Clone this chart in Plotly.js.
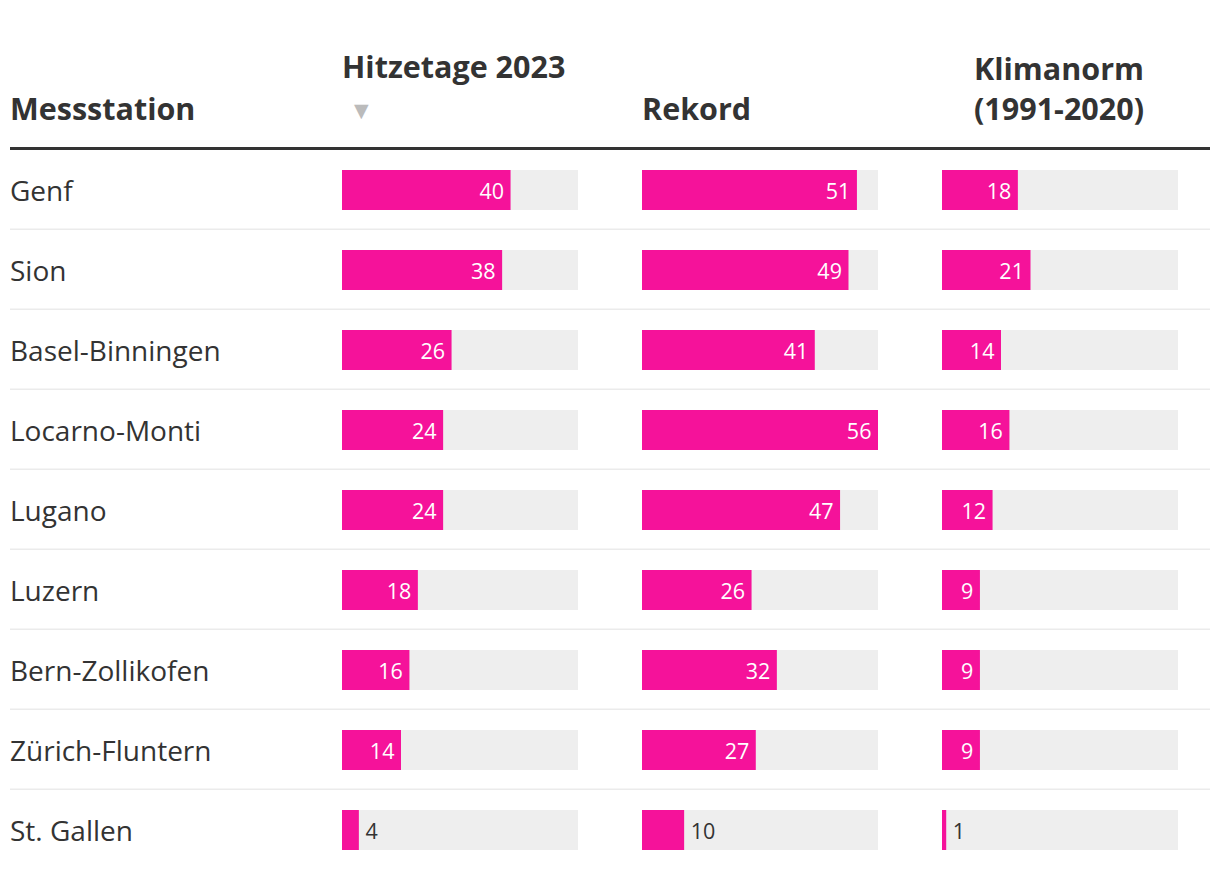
<!DOCTYPE html>
<html>
<head>
<meta charset="utf-8">
<script src="https://cdn.plot.ly/plotly-3.0.1.min.js"></script>
<style>
html,body{margin:0;padding:0;background:#fff;}
#chart{width:1220px;height:878px;}
</style>
</head>
<body>
<div id="chart"></div>
<script>
// ---- data ----
const stations = ['Genf','Sion','Basel-Binningen','Locarno-Monti','Lugano','Luzern','Bern-Zollikofen','Zürich-Fluntern','St. Gallen'];
const hitzetage2023 = [40,38,26,24,24,18,16,14,4];
const rekord = [51,49,41,56,47,26,32,27,10];
const klimanorm = [18,21,14,16,12,9,9,9,1];
const columnTitles = ['Messstation','Hitzetage 2023','Rekord','Klimanorm<br>(1991-2020)'];

// ---- layout constants ----
const W = 1220, H = 878, MT = 150, MB = 8;
const PINK = '#f5129a', GREY = '#eeeeee', DARK = '#333333';
const FONT = '"Open Sans", sans-serif';
const maxVal = Math.max(...hitzetage2023, ...rekord, ...klimanorm);
const colPx = [[342,578],[642,878],[942,1178]];
const py = p => (H - MB - p) / (H - MT - MB);
const px = p => p / W;

const series = [hitzetage2023, rekord, klimanorm];
const traces = [];
series.forEach((vals, i) => {
  const xa = i === 0 ? 'x' : 'x' + (i + 1);
  const widthPx = colPx[i][1] - colPx[i][0];
  traces.push({
    type: 'bar', orientation: 'h', xaxis: xa, yaxis: 'y',
    y: stations, x: stations.map(() => maxVal),
    marker: {color: GREY}, width: 0.5, hoverinfo: 'skip', showlegend: false
  });
  const inside = vals.map(v => (v / maxVal * widthPx) >= String(v).length * 12 + 20);
  traces.push({
    type: 'bar', orientation: 'h', xaxis: xa, yaxis: 'y',
    y: stations, x: vals,
    marker: {color: PINK}, width: 0.5, showlegend: false,
    texttemplate: inside.map(b => b ? '%{x}\u2009' : '\u2009%{x}'),
    textposition: inside.map(b => b ? 'inside' : 'outside'),
    insidetextanchor: 'end',
    insidetextfont: {color: '#ffffff', size: 21.5, family: FONT},
    outsidetextfont: {color: DARK, size: 21.5, family: FONT},
    constraintext: 'none', cliponaxis: false
  });
});

const annotations = [];
stations.forEach(s => {
  annotations.push({xref: 'paper', yref: 'y', x: px(8), y: s, xanchor: 'left', yanchor: 'middle',
    text: s, showarrow: false, font: {family: FONT, size: 28, color: DARK}});
});
const hdrFont = {family: FONT, size: 30.5, color: DARK, weight: 700};
annotations.push({xref:'paper', yref:'paper', x: px(8), y: py(108), xanchor:'left', yanchor:'middle', text: '<b>' + columnTitles[0] + '</b>', showarrow:false, font: hdrFont});
annotations.push({xref:'paper', yref:'paper', x: px(340), y: py(66), xanchor:'left', yanchor:'middle', text: '<b>' + columnTitles[1] + '</b>', showarrow:false, font: hdrFont});
annotations.push({xref:'paper', yref:'paper', x: px(352), y: py(110), xanchor:'left', yanchor:'middle', text: '▼', showarrow:false, font: {family: '"DejaVu Sans", sans-serif', size: 19, color: '#bbbbbb'}});
annotations.push({xref:'paper', yref:'paper', x: px(640), y: py(108), xanchor:'left', yanchor:'middle', text: '<b>' + columnTitles[2] + '</b>', showarrow:false, font: hdrFont});
annotations.push({xref:'paper', yref:'paper', x: px(972), y: py(88), xanchor:'left', yanchor:'middle', align:'left', text: '<b>' + columnTitles[3] + '</b>', showarrow:false, font: hdrFont});

const shapes = [{type:'line', xref:'paper', yref:'paper', x0: px(10), x1: px(1210), y0: py(148.5), y1: py(148.5), line:{color: DARK, width: 3}}];
for (let k = 0; k < stations.length - 1; k++) {
  shapes.push({type:'line', xref:'paper', yref:'y', x0: px(10), x1: px(1210), y0: k + 0.49, y1: k + 0.49, line:{color:'#ebebeb', width: 1.5}, layer:'below'});
}

const hiddenX = (d) => ({domain: d, range: [0, maxVal], visible: false, fixedrange: true});
const layout = {
  width: W, height: H,
  margin: {l: 0, r: 0, t: MT, b: MB, pad: 0},
  paper_bgcolor: '#ffffff', plot_bgcolor: 'rgba(0,0,0,0)',
  barmode: 'overlay', showlegend: false, hovermode: false,
  font: {family: FONT, color: DARK},
  xaxis: hiddenX([px(colPx[0][0]), px(colPx[0][1])]),
  xaxis2: hiddenX([px(colPx[1][0]), px(colPx[1][1])]),
  xaxis3: hiddenX([px(colPx[2][0]), px(colPx[2][1])]),
  yaxis: {type: 'category', categoryorder: 'array', categoryarray: stations, autorange: false,
          range: [stations.length - 0.5, -0.5], visible: false, fixedrange: true},
  annotations: annotations,
  shapes: shapes
};
Plotly.newPlot('chart', traces, layout, {displayModeBar: false, staticPlot: true});
</script>
</body>
</html>
